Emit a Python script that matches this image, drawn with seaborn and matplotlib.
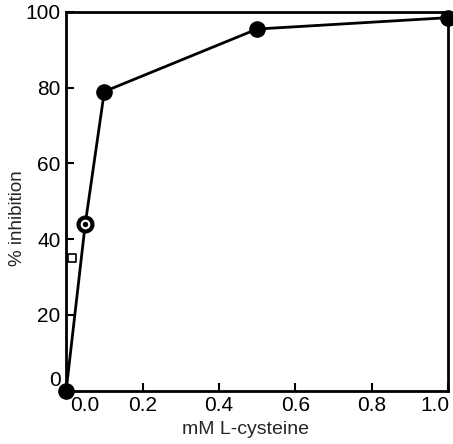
import matplotlib
matplotlib.use("Agg")
import matplotlib.pyplot as plt
import matplotlib.transforms as mtransforms
import seaborn as sns
import pandas as pd

# Data
conc = [0.0, 0.05, 0.1, 0.5, 1.0]
inhibition = [0.0, 44.0, 79.0, 95.5, 98.5]
filled = [True, False, True, True, True]
square_x = [0.015]
square_y = [35.0]
xticks = [0.0, 0.2, 0.4, 0.6, 0.8, 1.0]
xticklabels = ["0.0", "0.2", "0.4", "0.6", "0.8", "1.0"]
yticks = [0, 20, 40, 60, 80, 100]
yticklabels = ["0", "20", "40", "60", "80", "100"]

sns.set_theme(style="ticks")
plt.rcParams["font.family"] = ["Liberation Sans", "DejaVu Sans"]

df = pd.DataFrame({"conc": conc, "inh": inhibition, "filled": filled})

fig = plt.figure(figsize=(4.53, 4.44), dpi=100)
ax = fig.add_axes([0.146, 0.12, 0.843, 0.853])

sns.lineplot(data=df, x="conc", y="inh", ax=ax, color="black", linewidth=2.0,
             sort=False, clip_on=False)
sns.scatterplot(data=df[df["filled"]], x="conc", y="inh", ax=ax, color="black",
                s=120, edgecolor="black", linewidth=1, zorder=5, clip_on=False)
sns.scatterplot(data=df[~df["filled"]], x="conc", y="inh", ax=ax, color="white",
                s=100, edgecolor="black", linewidth=3, zorder=5, clip_on=False)
sns.scatterplot(data=df[~df["filled"]], x="conc", y="inh", ax=ax, color="black",
                s=15, linewidth=0, zorder=6, clip_on=False)
sns.scatterplot(x=square_x, y=square_y, ax=ax, marker="s", color="white",
                s=40, edgecolor="black", linewidth=1.2, zorder=5, clip_on=False)

ax.set_xlim(0, 1.0)
ax.set_ylim(0, 100)
ax.set_xticks(xticks)
ax.set_xticklabels(xticklabels)
ax.set_yticks(yticks)
ax.set_yticklabels(yticklabels)
ax.tick_params(direction="in", length=6, width=1.5, labelsize=15, colors="black", pad=4)

# shift some labels as in the reference
xls = ax.get_xticklabels()
off = mtransforms.ScaledTranslation(19 / 100, 0, fig.dpi_scale_trans)
xls[0].set_transform(xls[0].get_transform() + off)
offr = mtransforms.ScaledTranslation(-13 / 100, 0, fig.dpi_scale_trans)
xls[-1].set_transform(xls[-1].get_transform() + offr)
off2 = mtransforms.ScaledTranslation(0, 12 / 100, fig.dpi_scale_trans)
yl = ax.get_yticklabels()[0]
yl.set_transform(yl.get_transform() + off2)

for s in ax.spines.values():
    s.set_visible(True)
    s.set_linewidth(2.0)
    s.set_color("black")

ax.set_xlabel("mM L-cysteine", fontsize=14)
ax.set_ylabel("% inhibition", fontsize=13.5)
ax.xaxis.set_label_coords(0.469, -0.08)
ax.yaxis.set_label_coords(-0.105, 0.457)

fig.savefig("out.png", dpi=100)
